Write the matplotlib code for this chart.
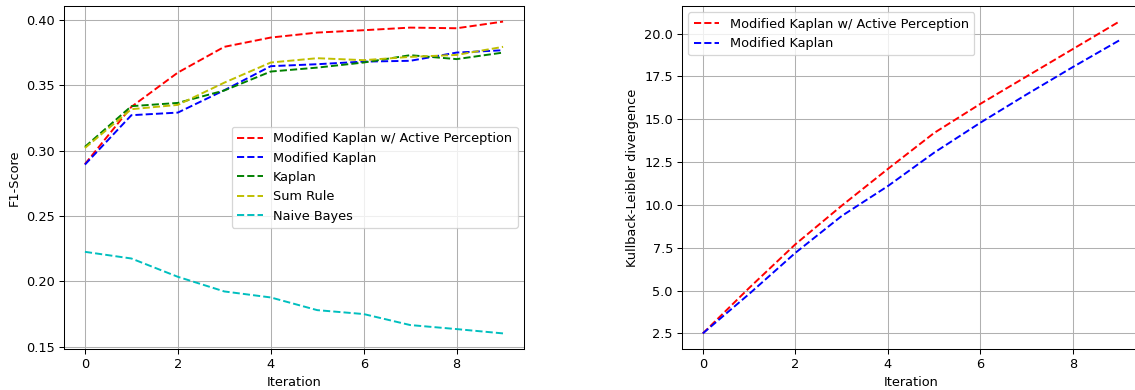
import matplotlib
matplotlib.use("Agg")
import matplotlib.pyplot as plt

iterations = list(range(10))

mk_ap = [0.2897, 0.3335, 0.3597, 0.3794, 0.3865, 0.3903, 0.3921, 0.3941, 0.3936, 0.3987]
mk = [0.2893, 0.3271, 0.3291, 0.3462, 0.3646, 0.3661, 0.3681, 0.3687, 0.3750, 0.3768]
kaplan = [0.3029, 0.3340, 0.3365, 0.3460, 0.3605, 0.3635, 0.3674, 0.3730, 0.3700, 0.3750]
sum_rule = [0.3020, 0.3317, 0.3350, 0.3520, 0.3674, 0.3707, 0.3692, 0.3717, 0.3732, 0.3794]
naive_bayes = [0.2226, 0.2175, 0.2035, 0.1923, 0.1877, 0.1780, 0.1750, 0.1666, 0.1635, 0.1602]

kl_mk_ap = [2.5, 5.15, 7.7, 9.95, 12.1, 14.2, 15.9, 17.5, 19.1, 20.7]
kl_mk = [2.5, 4.8, 7.2, 9.35, 11.1, 13.05, 14.8, 16.45, 18.05, 19.6]

W, H = 1135, 390
DPI = 93
fig = plt.figure(figsize=(W / DPI, H / DPI), dpi=DPI)

ax1 = fig.add_axes([64 / W, 41 / H, 460 / W, 343 / H])
ax1.plot(iterations, mk_ap, 'r--', label='Modified Kaplan w/ Active Perception')
ax1.plot(iterations, mk, 'b--', label='Modified Kaplan')
ax1.plot(iterations, kaplan, 'g--', label='Kaplan')
ax1.plot(iterations, sum_rule, 'y--', label='Sum Rule')
ax1.plot(iterations, naive_bayes, 'c--', label='Naive Bayes')
ax1.set_xlabel('Iteration')
ax1.set_ylabel('F1-Score')
ax1.grid(True)
ax1.legend(loc='center right')

ax2 = fig.add_axes([682 / W, 41 / H, 458 / W, 343 / H])
ax2.plot(iterations, kl_mk_ap, 'r--', label='Modified Kaplan w/ Active Perception')
ax2.plot(iterations, kl_mk, 'b--', label='Modified Kaplan')
ax2.set_xlabel('Iteration')
ax2.set_ylabel('Kullback-Leibler divergence')
ax2.grid(True)
ax2.legend(loc='upper left')

fig.savefig('out.png', dpi=DPI)
